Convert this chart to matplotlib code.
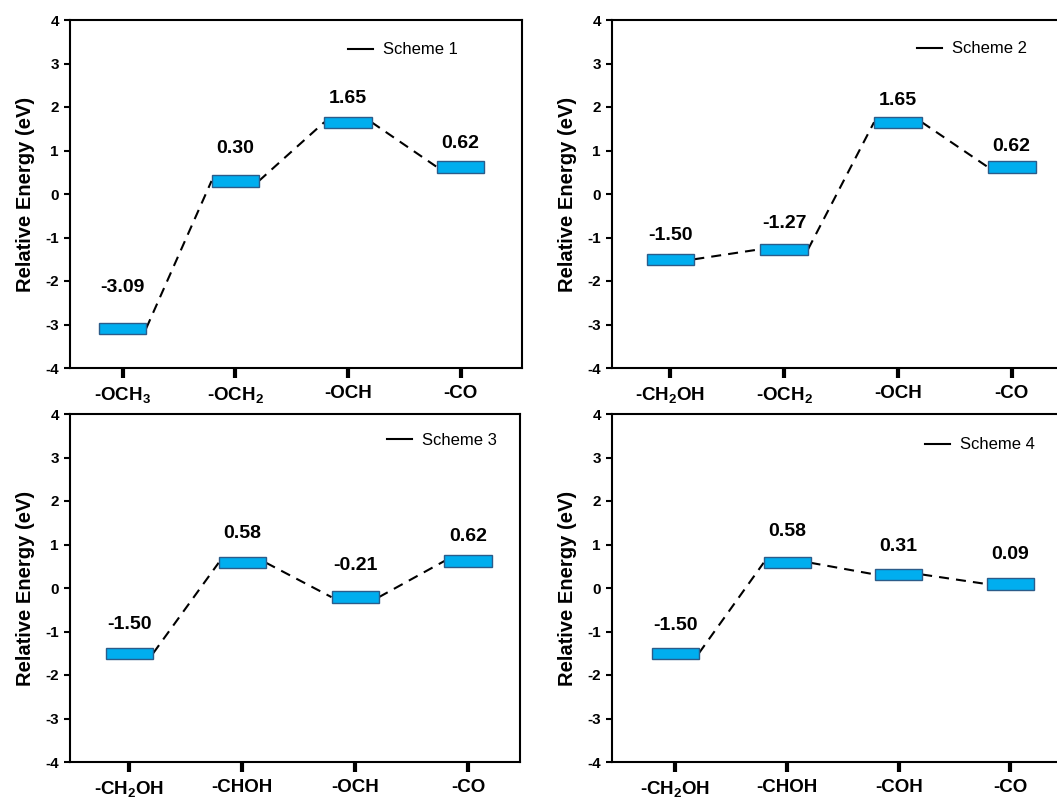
import matplotlib
matplotlib.use("Agg")
import matplotlib.pyplot as plt
from matplotlib.patches import Rectangle
from matplotlib.lines import Line2D

plt.rcParams['font.family'] = ['Liberation Sans', 'DejaVu Sans']
plt.rcParams['mathtext.fontset'] = 'custom'
plt.rcParams['mathtext.rm'] = 'Liberation Sans'
plt.rcParams['mathtext.bf'] = 'Liberation Sans:bold'

# ---- data ----
scheme_names = ["Scheme 1", "Scheme 2", "Scheme 3", "Scheme 4"]
cats1 = [r"-OCH$_\mathbf{3}$", r"-OCH$_\mathbf{2}$", "-OCH", "-CO"]
cats2 = [r"-CH$_\mathbf{2}$OH", r"-OCH$_\mathbf{2}$", "-OCH", "-CO"]
cats3 = [r"-CH$_\mathbf{2}$OH", "-CHOH", "-OCH", "-CO"]
cats4 = [r"-CH$_\mathbf{2}$OH", "-CHOH", "-COH", "-CO"]
energy1 = [-3.09, 0.30, 1.65, 0.62]
energy2 = [-1.50, -1.27, 1.65, 0.62]
energy3 = [-1.50, 0.58, -0.21, 0.62]
energy4 = [-1.50, 0.58, 0.31, 0.09]
yticks = [-4, -3, -2, -1, 0, 1, 2, 3, 4]

# ---- layout (label offsets above box centre, in eV units) ----
label_off1 = [0.95, 0.75, 0.54, 0.54]
label_off2 = [0.55, 0.60, 0.50, 0.47]
label_off3 = [0.65, 0.67, 0.73, 0.57]
label_off4 = [0.64, 0.71, 0.64, 0.69]

W, H = 1057, 798
fig = plt.figure(figsize=(W / 100, H / 100), dpi=100)

panels = [
    # (left px, top px, width px, height px, xlim, legend anchor, cats, energies, label offsets)
    (70, 20, 452, 348, (-0.466, 3.545), (0.615, 0.914), cats1, energy1, label_off1),
    (612, 20, 452, 348, (-0.514, 3.46), (0.675, 0.917), cats2, energy2, label_off2),
    (70, 414, 450, 348, (-0.527, 3.46), (0.704, 0.925), cats3, energy3, label_off3),
    (612, 414, 452, 348, (-0.568, 3.48), (0.692, 0.911), cats4, energy4, label_off4),
]

box_w = 0.42
box_h = 0.26
face = '#00AEEF'
edge = '#2B5C8A'

for k, (lp, tp, wp, hp, xl, lg, cats, en, offs) in enumerate(panels):
    ax = fig.add_axes([lp / W, (H - tp - hp) / H, wp / W, hp / H])
    xs = list(range(len(cats)))
    for x, v, o in zip(xs, en, offs):
        ax.add_patch(Rectangle((x - box_w / 2, v - box_h / 2), box_w, box_h,
                               facecolor=face, edgecolor=edge, lw=1.0, zorder=3))
        ax.text(x, v + o, f"{v:.2f}", ha='center', va='center',
                fontsize=14, fontweight='bold')
    for i in range(len(xs) - 1):
        ax.plot([xs[i] + box_w / 2, xs[i + 1] - box_w / 2], [en[i], en[i + 1]],
                color='black', lw=1.5, ls=(0, (4.8, 3.4)), zorder=2)
    ax.set_xlim(*xl)
    ax.set_ylim(-4, 4)
    ax.set_yticks(yticks)
    ax.set_yticklabels([str(t) for t in yticks], fontsize=11, fontweight='bold')
    ax.set_xticks(xs)
    ax.set_xticklabels(cats, fontsize=13.5, fontweight='bold')
    ax.tick_params(axis='y', direction='out', length=4, width=1.5, pad=4)
    ax.tick_params(axis='x', direction='out', length=7.5, width=3, pad=5)
    for s in ax.spines.values():
        s.set_linewidth(1.5)
    ax.set_ylabel("Relative Energy (eV)", fontsize=14.5, fontweight='bold', labelpad=7.5)
    handle = Line2D([], [], color='black', lw=1.5)
    ax.legend([handle], [scheme_names[k]], loc='center left', bbox_to_anchor=lg,
              frameon=False, fontsize=12, handlelength=1.5, handletextpad=0.6,
              borderpad=0, borderaxespad=0)

fig.savefig("out.png", dpi=100)
